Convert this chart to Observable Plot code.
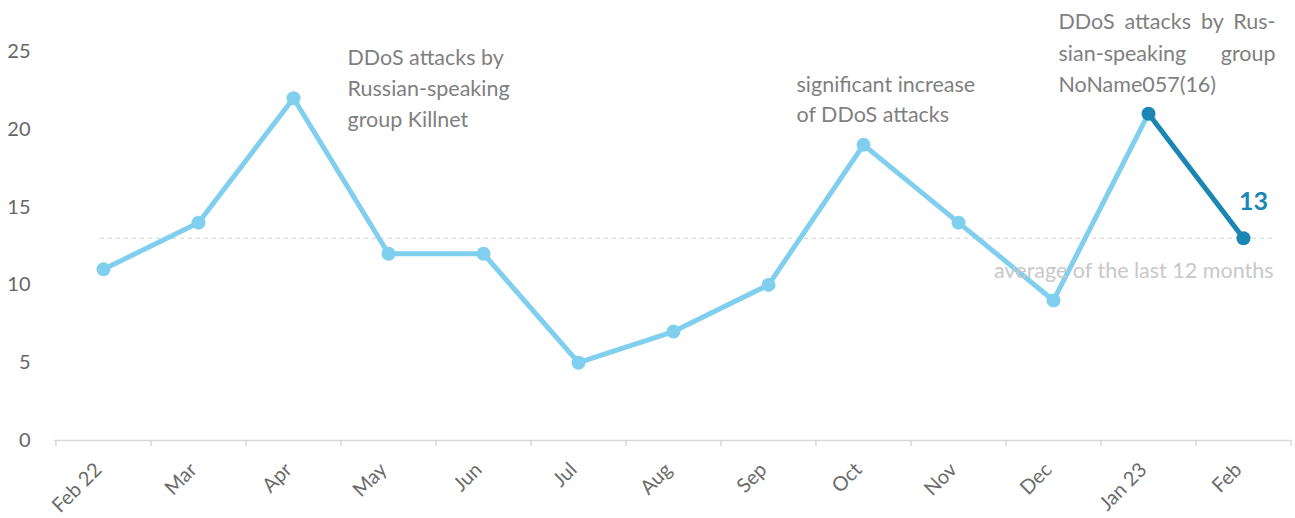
<!DOCTYPE html>
<html>
<head>
<meta charset="utf-8">
<script src="https://cdn.jsdelivr.net/npm/d3@7"></script>
<script src="https://cdn.jsdelivr.net/npm/@observablehq/plot@0.6"></script>
<style>
  html, body { margin: 0; padding: 0; background: #fff; }
  #chart svg { display: block; }
</style>
</head>
<body>
<div id="chart"></div>
<script>
const months = ["Feb 22","Mar","Apr","May","Jun","Jul","Aug","Sep","Oct","Nov","Dec","Jan 23","Feb"];
const attacks = [11,14,22,12,12,5,7,10,19,14,9,21,13];
const yTicks = [0,5,10,15,20,25];
const averageValue = 13;
const averageLabel = "average of the last 12 months";
const noteKillnet = "DDoS attacks by\nRussian-speaking\ngroup Killnet";
const noteOct = "significant increase\nof DDoS attacks";
const noteNoName = "DDoS attacks by Rus-\nsian-speaking group\nNoName057(16)";

const data = months.map((m, i) => ({month: m, value: attacks[i], i}));
const lightPart = data.slice(0, 12);
const darkPart = data.slice(11);

const W = 1295, H = 518;
const mL = 54, mR = 4, mT = 51, mB = 78;
const step = (W - mL - mR) / months.length;

const light = "#80cfee";
const dark = "#1a86b4";
const font = "Lato, 'Open Sans', sans-serif";
const noteSize = 21.5;

const plot = Plot.plot({
  width: W, height: H,
  marginLeft: mL, marginRight: mR, marginTop: mT, marginBottom: mB,
  style: {fontFamily: font, background: "#fff"},
  x: {type: "point", domain: months, padding: 0.5, label: null},
  y: {domain: [0, 25], label: null},
  marks: [
    Plot.ruleY([averageValue], {stroke: "#d0d0d0", strokeWidth: 1, strokeDasharray: "4,4", insetLeft: 46, insetRight: 18}),
    Plot.ruleY([0], {stroke: "#d9d9d9", strokeWidth: 1.5}),
    Plot.axisX({ticks: months, tickSize: 6, tickFormat: null, dx: -step / 2, stroke: "#d9d9d9", strokeWidth: 1.5}),
    Plot.axisX({ticks: ["Feb"], tickSize: 6, tickFormat: null, dx: step / 2, stroke: "#d9d9d9", strokeWidth: 1.5}),
    Plot.axisX({ticks: months, tickSize: 0, tickPadding: 26, tickRotate: -45, dx: -5, fontSize: 20, fill: "#6b6b6b", label: null}),
    Plot.axisY({ticks: yTicks, tickSize: 0, tickPadding: 24, fontSize: 20, fill: "#666", label: null}),
    Plot.line(lightPart, {x: "month", y: "value", stroke: light, strokeWidth: 5}),
    Plot.line(darkPart, {x: "month", y: "value", stroke: dark, strokeWidth: 5}),
    Plot.dot(data, {x: "month", y: "value", r: 7, fill: d => d.i >= 11 ? dark : light}),
    Plot.text([data[2]], {x: "month", y: "value", text: () => noteKillnet, textAnchor: "start", lineAnchor: "middle", dx: 54, dy: -12, fontSize: noteSize, lineHeight: 31 / noteSize, fill: "#7f7f7f"}),
    Plot.text([data[8]], {x: "month", y: "value", text: () => noteOct, textAnchor: "start", lineAnchor: "middle", dx: -67, dy: -47, fontSize: noteSize, lineHeight: 30 / noteSize, fill: "#7f7f7f"}),
    Plot.text([data[11]], {x: "month", y: "value", text: () => noteNoName, textAnchor: "start", lineAnchor: "middle", dx: -90, dy: -63, fontSize: noteSize, lineHeight: 31.5 / noteSize, fill: "#7f7f7f"}),
    Plot.text([data[12]], {x: "month", y: "value", text: d => String(d.value), dx: 10, dy: -36, fontSize: 25, fontWeight: "bold", fill: dark}),
    Plot.text([data[12]], {x: "month", y: () => averageValue, text: () => averageLabel, textAnchor: "end", dx: 30, dy: 33, fontSize: noteSize, fill: "#c8c8c8"})
  ]
});

document.getElementById("chart").appendChild(plot);

// justify the NoName057 note's first two lines via word spacing
const justifyWidth = 217;
d3.select(plot).selectAll("text").each(function() {
  if (this.textContent.startsWith("DDoS attacks by Rus")) {
    const spans = this.querySelectorAll("tspan");
    [0, 1].forEach(k => {
      const s = spans[k];
      if (!s) return;
      const words = s.textContent.trim().split(/\s+/).length;
      const w = s.getComputedTextLength();
      if (words > 1 && w < justifyWidth) {
        s.style.wordSpacing = ((justifyWidth - w) / (words - 1)) + "px";
      }
    });
  }
});
</script>
</body>
</html>
